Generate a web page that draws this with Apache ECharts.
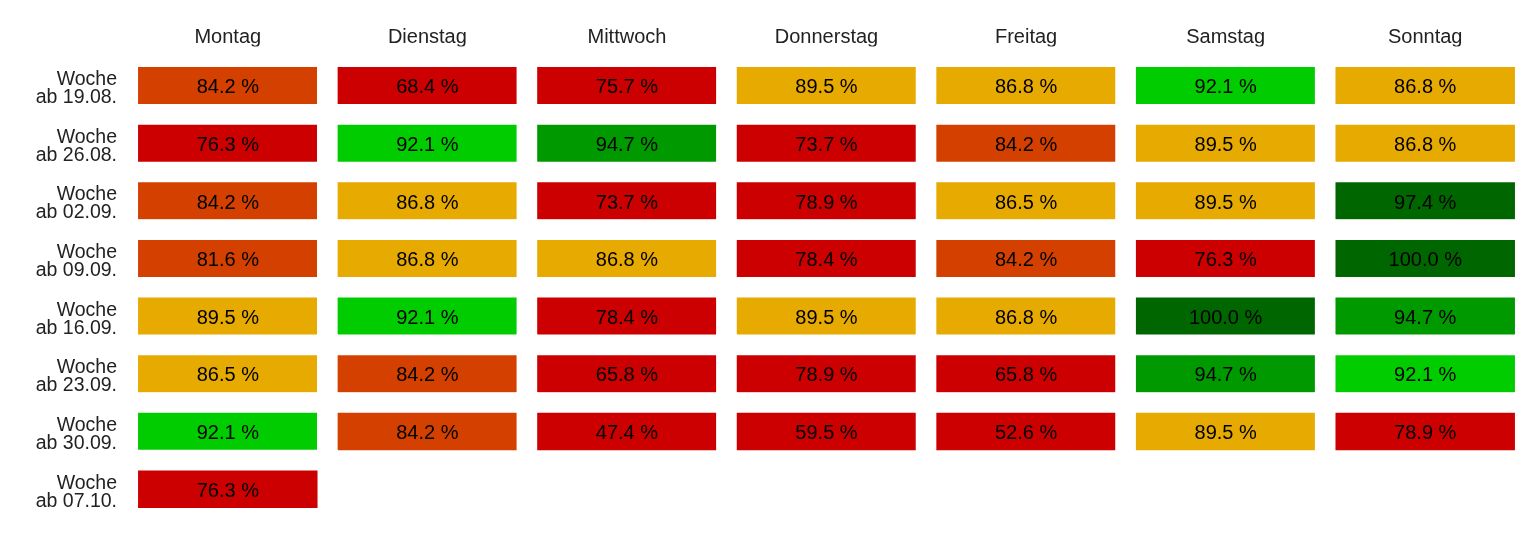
<!DOCTYPE html>
<html>
<head>
<meta charset="utf-8">
<script src="https://cdn.jsdelivr.net/npm/echarts@6/dist/echarts.min.js"></script>
<style>
html,body{margin:0;padding:0;background:#fff;}
#c{width:1536px;height:535px;}
</style>
</head>
<body>
<div id="c"></div>
<script>
const days = ['Montag','Dienstag','Mittwoch','Donnerstag','Freitag','Samstag','Sonntag'];
const weeks = ['Woche\nab 19.08.','Woche\nab 26.08.','Woche\nab 02.09.','Woche\nab 09.09.','Woche\nab 16.09.','Woche\nab 23.09.','Woche\nab 30.09.','Woche\nab 07.10.'];
const w1908 = [84.2, 68.4, 75.7, 89.5, 86.8, 92.1, 86.8];
const w2608 = [76.3, 92.1, 94.7, 73.7, 84.2, 89.5, 86.8];
const w0209 = [84.2, 86.8, 73.7, 78.9, 86.5, 89.5, 97.4];
const w0909 = [81.6, 86.8, 86.8, 78.4, 84.2, 76.3, 100.0];
const w1609 = [89.5, 92.1, 78.4, 89.5, 86.8, 100.0, 94.7];
const w2309 = [86.5, 84.2, 65.8, 78.9, 65.8, 94.7, 92.1];
const w3009 = [92.1, 84.2, 47.4, 59.5, 52.6, 89.5, 78.9];
const w0710 = [76.3];
const weekValues = [w1908, w2608, w0209, w0909, w1609, w2309, w3009, w0710];

const data = [];
weekValues.forEach((row, y) => row.forEach((v, x) => data.push([x, y, v])));

const chart = echarts.init(document.getElementById('c'), null, {renderer: 'canvas'});
chart.setOption({
  animation: false,
  backgroundColor: '#fff',
  grid: {left: 128, right: 11, top: 57, bottom: 17},
  xAxis: {
    type: 'category', data: days, position: 'top',
    axisLine: {show: false}, axisTick: {show: false}, splitLine: {show: false},
    axisLabel: {margin: 10, fontSize: 20, color: '#222', fontFamily: 'Liberation Sans'}
  },
  yAxis: {
    type: 'category', data: weeks, inverse: true,
    axisLine: {show: false}, axisTick: {show: false}, splitLine: {show: false},
    axisLabel: {
      margin: 11, color: '#222', align: 'right', fontFamily: 'Liberation Sans',
      formatter: v => '{s| }\n' + v.split('\n').map(t => '{a|' + t + '}').join('\n'),
      rich: {
        s: {fontSize: 4, lineHeight: 6},
        a: {fontSize: 19.5, lineHeight: 18, color: '#222', fontFamily: 'Liberation Sans', align: 'right'}
      }
    }
  },
  visualMap: {
    type: 'piecewise', show: false, dimension: 2,
    pieces: [
      {lt: 80, color: '#cc0000'},
      {gte: 80, lt: 85, color: '#d44000'},
      {gte: 85, lt: 90, color: '#e6aa00'},
      {gte: 90, lt: 93, color: '#00cc00'},
      {gte: 93, lt: 96, color: '#009900'},
      {gte: 96, color: '#006600'}
    ]
  },
  series: [{
    type: 'heatmap',
    data: data,
    itemStyle: {borderColor: '#fff', borderWidth: 20.6},
    label: {
      show: true, fontSize: 20, color: '#000', fontFamily: 'Liberation Sans',
      offset: [0, 2],
      formatter: p => p.value[2].toFixed(1) + ' %'
    },
    emphasis: {disabled: true}
  }]
});
</script>
</body>
</html>
